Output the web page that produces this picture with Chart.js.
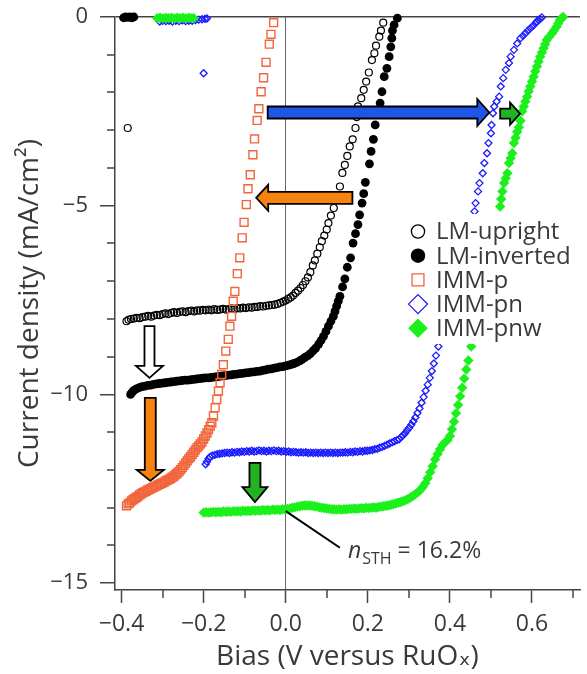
<!DOCTYPE html>
<html><head><meta charset="utf-8">
<script src="https://cdn.jsdelivr.net/npm/chart.js@4.4.0/dist/chart.umd.min.js"></script>
<style>html,body{margin:0;padding:0;background:#fff;}canvas{display:block;}</style>
</head><body>
<canvas id="c" width="587" height="674"></canvas>
<script>
// ---------- DATA ----------
const seriesLabels = ['LM-upright', 'LM-inverted', 'IMM-p', 'IMM-pn', 'IMM-pnw'];

const xMajorTicks = [-0.4, -0.2, 0, 0.2, 0.4, 0.6];
const xMinorTicks = [-0.3, -0.1, 0.1, 0.3, 0.5, 0.7];
const yMajorTicks = [0, -5, -10, -15];
const yMinorTicks = [-1, -2, -3, -4, -6, -7, -8, -9, -11, -12, -13, -14];

const lmUpright = [
[-0.385,-2.94],
[-0.388,-8.06],[-0.383,-8.02],[-0.377,-8.00],[-0.370,-7.99],[-0.363,-7.97],[-0.356,-7.98],[-0.349,-7.95],
[-0.342,-7.94],[-0.335,-7.92],[-0.328,-7.94],[-0.321,-7.91],[-0.314,-7.89],[-0.307,-7.90],[-0.300,-7.87],
[-0.293,-7.85],[-0.286,-7.87],[-0.279,-7.84],[-0.272,-7.82],[-0.265,-7.84],[-0.258,-7.81],[-0.251,-7.80],
[-0.244,-7.82],[-0.237,-7.79],[-0.230,-7.78],[-0.223,-7.80],[-0.216,-7.77],[-0.209,-7.78],[-0.202,-7.76],
[-0.195,-7.77],[-0.188,-7.75],[-0.181,-7.77],[-0.174,-7.74],[-0.167,-7.76],[-0.160,-7.75],[-0.153,-7.73],
[-0.146,-7.75],[-0.139,-7.74],[-0.132,-7.72],[-0.125,-7.74],[-0.118,-7.71],[-0.111,-7.72],[-0.104,-7.70],
[-0.097,-7.71],[-0.090,-7.69],[-0.083,-7.70],[-0.076,-7.68],[-0.069,-7.68],[-0.062,-7.66],[-0.055,-7.67],
[-0.048,-7.65],[-0.041,-7.64],[-0.034,-7.63],[-0.027,-7.62],[-0.020,-7.60],[-0.013,-7.57],[-0.006,-7.54],
[0.000,-7.51],[0.006,-7.47],[0.012,-7.43],[0.018,-7.38],[0.024,-7.31],[0.030,-7.25],[0.036,-7.18],
[0.042,-7.10],[0.048,-7.00],[0.054,-6.90],[0.060,-6.76],[0.066,-6.58],[0.071,-6.45],[0.077,-6.27],
[0.083,-6.10],[0.088,-5.94],[0.094,-5.79],[0.100,-5.63],[0.104,-5.46],[0.110,-5.26],[0.117,-5.06],
[0.125,-4.78],[0.132,-4.49],[0.138,-4.13],[0.144,-3.92],[0.150,-3.68],[0.156,-3.43],[0.163,-3.24],
[0.170,-2.94],[0.173,-2.65],[0.176,-2.37],[0.184,-2.15],[0.190,-1.93],[0.196,-1.71],[0.2025,-1.47],
[0.210,-1.14],[0.216,-0.96],[0.220,-0.76],[0.228,-0.52],[0.232,-0.36],[0.2376,-0.15]
];

const lmInverted = [
[-0.395,-0.02],[-0.390,0.00],[-0.385,-0.01],[-0.380,0.00],[-0.375,-0.02],[-0.370,0.00],
[-0.378,-10.00],[-0.374,-9.94],[-0.370,-9.89],[-0.364,-9.85],[-0.357,-9.82],[-0.350,-9.79],[-0.343,-9.78],
[-0.336,-9.76],[-0.329,-9.75],[-0.322,-9.73],[-0.315,-9.72],[-0.308,-9.71],[-0.301,-9.70],[-0.294,-9.69],
[-0.287,-9.68],[-0.280,-9.67],[-0.273,-9.66],[-0.266,-9.65],[-0.259,-9.64],[-0.252,-9.63],[-0.245,-9.62],
[-0.238,-9.62],[-0.231,-9.61],[-0.224,-9.60],[-0.217,-9.59],[-0.210,-9.58],[-0.203,-9.57],[-0.196,-9.56],
[-0.189,-9.56],[-0.182,-9.55],[-0.175,-9.54],[-0.168,-9.53],[-0.161,-9.52],[-0.154,-9.51],[-0.147,-9.50],
[-0.140,-9.49],[-0.133,-9.48],[-0.126,-9.47],[-0.119,-9.46],[-0.112,-9.45],[-0.105,-9.44],[-0.098,-9.43],
[-0.091,-9.42],[-0.084,-9.41],[-0.077,-9.40],[-0.070,-9.39],[-0.063,-9.38],[-0.056,-9.36],[-0.049,-9.35],
[-0.042,-9.33],[-0.035,-9.32],[-0.028,-9.30],[-0.021,-9.29],[-0.014,-9.27],[-0.007,-9.26],[0.000,-9.24],
[0.007,-9.22],[0.014,-9.20],[0.020,-9.18],[0.027,-9.15],[0.034,-9.11],[0.040,-9.07],[0.047,-9.02],
[0.054,-8.97],[0.060,-8.92],[0.067,-8.84],[0.073,-8.77],[0.080,-8.67],[0.086,-8.57],[0.092,-8.46],
[0.098,-8.33],[0.104,-8.19],[0.110,-8.06],[0.116,-7.93],[0.120,-7.80],[0.124,-7.66],[0.128,-7.53],
[0.132,-7.40],[0.1385,-7.15],[0.144,-6.94],[0.150,-6.63],[0.158,-6.38],[0.164,-5.99],[0.170,-5.74],
[0.176,-5.50],[0.180,-5.24],[0.186,-4.93],[0.190,-4.68],[0.194,-4.38],[0.204,-3.89],[0.208,-3.56],
[0.2136,-3.24],[0.218,-2.86],[0.224,-2.57],[0.230,-2.28],[0.2345,-1.98],[0.240,-1.58],[0.2465,-1.36],
[0.252,-1.05],[0.256,-0.79],[0.2585,-0.56],[0.260,-0.36],[0.264,-0.21],[0.272,-0.03]
];

const immP = [
[-0.388,-12.95],[-0.384,-12.90],[-0.380,-12.87],[-0.376,-12.82],[-0.372,-12.79],[-0.368,-12.76],[-0.364,-12.73],
[-0.360,-12.70],[-0.356,-12.66],[-0.352,-12.63],[-0.348,-12.60],[-0.344,-12.58],[-0.340,-12.56],[-0.336,-12.53],
[-0.332,-12.51],[-0.328,-12.49],[-0.324,-12.47],[-0.320,-12.45],[-0.316,-12.43],[-0.312,-12.40],[-0.308,-12.38],
[-0.304,-12.36],[-0.300,-12.34],[-0.296,-12.32],[-0.292,-12.29],[-0.288,-12.27],[-0.284,-12.25],[-0.280,-12.22],
[-0.276,-12.19],[-0.272,-12.16],[-0.268,-12.12],[-0.264,-12.08],[-0.260,-12.04],[-0.256,-11.99],[-0.252,-11.94],
[-0.248,-11.88],[-0.244,-11.82],[-0.240,-11.76],[-0.236,-11.70],[-0.232,-11.65],[-0.228,-11.59],[-0.224,-11.53],
[-0.220,-11.47],[-0.216,-11.41],[-0.212,-11.36],[-0.208,-11.31],[-0.204,-11.26],[-0.200,-11.18],[-0.196,-11.10],
[-0.192,-11.02],[-0.188,-10.93],[-0.184,-10.84],[-0.180,-10.75],[-0.176,-10.57],[-0.172,-10.35],[-0.168,-10.13],
[-0.164,-9.91],[-0.160,-9.69],[-0.156,-9.47],[-0.152,-9.21],[-0.146,-8.85],[-0.140,-8.54],[-0.136,-8.19],
[-0.132,-7.93],[-0.128,-7.53],[-0.124,-7.27],[-0.118,-6.80],[-0.112,-6.38],[-0.106,-5.85],[-0.1015,-5.44],
[-0.096,-4.97],[-0.092,-4.55],[-0.0864,-4.18],[-0.080,-3.65],[-0.076,-3.23],[-0.0696,-2.74],[-0.0655,-2.43],
[-0.060,-1.98],[-0.054,-1.61],[-0.048,-1.20],[-0.040,-0.72],[-0.036,-0.46],[-0.0295,-0.15]
];

const immPn = [
[-0.307,-0.12],[-0.300,-0.10],[-0.292,-0.11],[-0.284,-0.10],[-0.276,-0.12],[-0.268,-0.10],[-0.260,-0.11],
[-0.252,-0.09],[-0.244,-0.11],[-0.236,-0.10],[-0.228,-0.10],[-0.220,-0.08],[-0.212,-0.07],[-0.204,-0.06],
[-0.197,-0.05],[-0.192,-0.04],
[-0.200,-1.49],
[-0.195,-11.85],[-0.192,-11.78],[-0.188,-11.70],[-0.184,-11.65],[-0.179,-11.62],[-0.173,-11.60],[-0.167,-11.58],
[-0.161,-11.57],[-0.155,-11.56],[-0.149,-11.55],[-0.143,-11.54],[-0.137,-11.55],[-0.131,-11.53],[-0.125,-11.54],
[-0.119,-11.52],[-0.113,-11.53],[-0.107,-11.51],[-0.101,-11.52],[-0.095,-11.50],[-0.089,-11.51],[-0.083,-11.49],
[-0.077,-11.51],[-0.071,-11.50],[-0.065,-11.48],[-0.059,-11.50],[-0.053,-11.49],[-0.047,-11.51],[-0.041,-11.49],
[-0.035,-11.50],[-0.029,-11.48],[-0.023,-11.50],[-0.017,-11.49],[-0.011,-11.51],[-0.005,-11.50],[0.001,-11.52],
[0.007,-11.51],[0.013,-11.53],[0.019,-11.52],[0.025,-11.53],[0.031,-11.54],[0.037,-11.53],[0.043,-11.54],
[0.049,-11.53],[0.055,-11.55],[0.061,-11.54],[0.067,-11.55],[0.073,-11.54],[0.079,-11.55],[0.085,-11.54],
[0.091,-11.55],[0.097,-11.54],[0.103,-11.55],[0.109,-11.54],[0.115,-11.55],[0.121,-11.54],[0.127,-11.55],
[0.133,-11.54],[0.139,-11.54],[0.145,-11.53],[0.151,-11.54],[0.157,-11.52],[0.163,-11.53],[0.169,-11.51],
[0.175,-11.52],[0.181,-11.50],[0.187,-11.51],[0.193,-11.49],[0.199,-11.49],[0.205,-11.48],[0.211,-11.47],
[0.217,-11.45],[0.223,-11.44],[0.229,-11.41],[0.235,-11.39],[0.241,-11.36],[0.247,-11.33],[0.253,-11.30],
[0.259,-11.27],[0.265,-11.24],[0.271,-11.21],[0.276,-11.19],[0.281,-11.13],[0.286,-11.08],[0.291,-11.02],
[0.296,-10.95],[0.301,-10.88],[0.306,-10.80],[0.311,-10.71],[0.316,-10.61],[0.321,-10.49],[0.326,-10.37],
[0.331,-10.22],[0.336,-10.07],[0.341,-9.90],[0.346,-9.74],[0.351,-9.56],[0.356,-9.38],[0.361,-9.18],
[0.366,-8.97],[0.372,-8.73],[0.377,-8.51],[0.382,-8.30],[0.388,-8.06],[0.394,-7.82],[0.400,-7.58],
[0.406,-7.34],[0.412,-7.10],[0.418,-6.86],[0.424,-6.62],[0.430,-6.38],[0.436,-6.14],[0.442,-5.90],
[0.448,-5.66],[0.454,-5.42],[0.460,-5.15],[0.4625,-4.93],[0.4685,-4.62],[0.472,-4.40],[0.480,-4.14],
[0.484,-3.87],[0.4905,-3.61],[0.494,-3.34],[0.500,-3.08],[0.5015,-2.86],[0.505,-2.55],[0.508,-2.37],
[0.514,-2.24],[0.520,-2.11],[0.524,-1.84],[0.530,-1.62],[0.536,-1.40],[0.544,-1.22],[0.548,-1.05],
[0.556,-0.87],[0.564,-0.70],[0.572,-0.56],[0.578,-0.50],[0.584,-0.43],[0.590,-0.36],[0.596,-0.30],
[0.602,-0.24],[0.608,-0.17],[0.612,-0.12],[0.616,-0.08],[0.620,-0.05],[0.624,-0.01]
];

const immPnw = [
[-0.313,-0.03],[-0.306,-0.02],[-0.299,-0.04],[-0.292,-0.02],[-0.285,-0.03],[-0.278,-0.02],[-0.271,-0.04],
[-0.264,-0.02],[-0.257,-0.03],[-0.250,-0.02],[-0.243,-0.04],[-0.236,-0.02],[-0.229,-0.03],[-0.224,-0.03],
[-0.200,-13.13],[-0.194,-13.12],[-0.188,-13.13],[-0.182,-13.12],[-0.176,-13.11],[-0.170,-13.12],[-0.164,-13.11],
[-0.158,-13.12],[-0.152,-13.10],[-0.146,-13.11],[-0.140,-13.10],[-0.134,-13.11],[-0.128,-13.09],[-0.122,-13.10],
[-0.116,-13.09],[-0.110,-13.10],[-0.104,-13.08],[-0.098,-13.09],[-0.092,-13.08],[-0.086,-13.09],[-0.080,-13.07],
[-0.074,-13.08],[-0.068,-13.07],[-0.062,-13.08],[-0.056,-13.06],[-0.050,-13.07],[-0.044,-13.06],[-0.038,-13.07],
[-0.032,-13.05],[-0.026,-13.06],[-0.020,-13.05],[-0.014,-13.06],[-0.008,-13.04],[-0.002,-13.05],[0.004,-13.03],
[0.010,-13.02],[0.016,-13.00],[0.022,-12.99],[0.028,-12.97],[0.034,-12.96],[0.040,-12.95],[0.046,-12.94],
[0.052,-12.94],[0.058,-12.94],[0.064,-12.95],[0.070,-12.96],[0.076,-12.97],[0.082,-12.99],[0.088,-13.00],
[0.094,-13.01],[0.100,-13.02],[0.106,-13.03],[0.112,-13.04],[0.118,-13.04],[0.124,-13.05],[0.130,-13.04],
[0.136,-13.05],[0.142,-13.04],[0.148,-13.04],[0.154,-13.03],[0.160,-13.03],[0.166,-13.02],[0.172,-13.03],
[0.178,-13.02],[0.184,-13.01],[0.190,-13.02],[0.196,-13.00],[0.202,-13.01],[0.208,-13.00],[0.214,-12.99],
[0.220,-13.00],[0.226,-12.98],[0.232,-12.97],[0.238,-12.96],[0.244,-12.95],[0.250,-12.94],[0.256,-12.92],
[0.262,-12.91],[0.268,-12.89],[0.274,-12.87],[0.280,-12.85],[0.286,-12.83],[0.292,-12.80],[0.298,-12.77],
[0.304,-12.73],[0.310,-12.69],[0.316,-12.64],[0.322,-12.59],[0.328,-12.53],[0.334,-12.45],[0.340,-12.35],
[0.346,-12.22],[0.352,-12.06],[0.358,-11.90],[0.364,-11.72],[0.370,-11.58],[0.376,-11.45],[0.382,-11.34],
[0.388,-11.27],[0.394,-11.21],[0.400,-11.10],[0.405,-10.92],[0.410,-10.72],[0.415,-10.50],[0.420,-10.28],
[0.425,-10.05],[0.430,-9.82],[0.435,-9.58],[0.440,-9.34],[0.445,-9.10],[0.452,-8.73],[0.457,-8.50],
[0.462,-8.26],[0.467,-8.02],[0.472,-7.78],[0.477,-7.54],[0.482,-7.30],[0.487,-7.06],[0.492,-6.82],
[0.497,-6.58],[0.502,-6.34],[0.507,-6.10],[0.512,-5.78],[0.517,-5.40],[0.5225,-5.02],[0.525,-4.82],
[0.528,-4.62],[0.532,-4.40],[0.536,-4.27],[0.540,-4.14],[0.544,-3.87],[0.548,-3.74],[0.552,-3.61],
[0.556,-3.34],[0.560,-3.20],[0.564,-3.04],[0.568,-2.92],[0.572,-2.75],[0.576,-2.50],[0.580,-2.37],
[0.584,-2.24],[0.588,-2.11],[0.592,-1.97],[0.596,-1.84],[0.600,-1.71],[0.604,-1.58],[0.608,-1.44],
[0.612,-1.31],[0.616,-1.18],[0.620,-1.05],[0.624,-0.94],[0.628,-0.83],[0.632,-0.72],[0.636,-0.61],
[0.642,-0.52],[0.649,-0.43],[0.654,-0.35],[0.660,-0.26],[0.664,-0.17],[0.668,-0.08],[0.672,-0.03],[0.676,0.00]
];

// Annotation arrows: tail and tip in data units (bias V, current mA/cm2)
const arrowTails = [[-0.044,-2.53],[0.5225,-2.56],[0.1625,-4.79],[-0.332,-8.19],[-0.330,-10.09],[-0.075,-11.81]];
const arrowTips  = [[0.496,-2.53],[0.571,-2.56],[-0.072,-4.79],[-0.332,-9.56],[-0.330,-12.29],[-0.075,-12.85]];
const efficiencyPoint = [0, -13.09];
const efficiencyLabelAt = [0.132, -14.06];

// ---------- STYLE ----------
const FONT = "'Open Sans', 'DejaVu Sans', sans-serif";
const TXT = '#3a3a3a';
const AX = '#444';
const arrowStyles = [
  {fill:'#1f55e8', bar:12, head:12, hw:27},
  {fill:'#22b322', bar:10, head:10, hw:22},
  {fill:'#f7820d', bar:12, head:12, hw:26},
  {fill:'#ffffff', bar:10, head:12, hw:27},
  {fill:'#f7820d', bar:11, head:11, hw:27},
  {fill:'#22b322', bar:11, head:15, hw:25}
];
const legendMarker = [
  {r:6.6, bw:1.5}, {r:7.2, bw:0}, {r:8.4, bw:1.6}, {r:9.5, bw:1.6}, {r:9.8, bw:0}
];

function pts(a){ return a.map(p => ({x:p[0], y:p[1]})); }
const CLEAR = 'rgba(255,255,255,0)';

const datasets = [
  {label:seriesLabels[0], data:pts(lmUpright), pointStyle:'circle', pointRadius:3.5, pointBorderWidth:1.2,
   pointBorderColor:'#000', pointBackgroundColor:CLEAR, order:5, clip:false},
  {label:seriesLabels[1], data:pts(lmInverted), pointStyle:'circle', pointRadius:4.4, pointBorderWidth:0,
   pointBorderColor:'#000', pointBackgroundColor:'#000', order:4, clip:false},
  {label:seriesLabels[2], data:pts(immP), pointStyle:'rect', pointRadius:5.6, pointBorderWidth:1.4,
   pointBorderColor:'#f2643a', pointBackgroundColor:CLEAR, order:3, clip:false},
  {label:seriesLabels[3], data:pts(immPn), pointStyle:'rectRot', pointRadius:3.5, pointBorderWidth:1.3,
   pointBorderColor:'#1a1aff', pointBackgroundColor:CLEAR, order:2, clip:false},
  {label:seriesLabels[4], data:pts(immPnw), pointStyle:'rectRot', pointRadius:5.2, pointBorderWidth:0,
   pointBorderColor:'#1cf01c', pointBackgroundColor:'#1cf01c', order:1, clip:false}
];

function drawArrow(ctx, x1, y1, x2, y2, st){
  const dx = x2-x1, dy = y2-y1, L = Math.hypot(dx,dy);
  const ux = dx/L, uy = dy/L, nx = -uy, ny = ux;
  const nkx = x2 - ux*st.head, nky = y2 - uy*st.head;
  const b = st.bar/2, h = st.hw/2;
  ctx.beginPath();
  ctx.moveTo(x1 + nx*b, y1 + ny*b);
  ctx.lineTo(nkx + nx*b, nky + ny*b);
  ctx.lineTo(nkx + nx*h, nky + ny*h);
  ctx.lineTo(x2, y2);
  ctx.lineTo(nkx - nx*h, nky - ny*h);
  ctx.lineTo(nkx - nx*b, nky - ny*b);
  ctx.lineTo(x1 - nx*b, y1 - ny*b);
  ctx.closePath();
  ctx.fillStyle = st.fill; ctx.fill();
  ctx.lineWidth = 1.8; ctx.strokeStyle = '#000'; ctx.lineJoin = 'miter'; ctx.stroke();
}

const overlayPlugin = {
  id:'overlay',
  afterDatasetsDraw(chart){
    const {ctx, chartArea:ca} = chart;
    const xs = chart.scales.x, ys = chart.scales.y;
    ctx.save();
    // legend with white background
    const bx = ca.left + 290, by = ca.top + 197;
    ctx.fillStyle = '#fff';
    ctx.fillRect(bx, by, 175, 130);
    ctx.font = '24px ' + FONT;
    ctx.textBaseline = 'middle';
    ctx.textAlign = 'left';
    chart.data.datasets.forEach((ds, i) => {
      const cy = by + 17.5 + i*24.2;
      const cx = bx + 13;
      ctx.fillStyle = ds.pointBackgroundColor;
      ctx.strokeStyle = ds.pointBorderColor;
      Chart.helpers.drawPoint(ctx, {pointStyle: ds.pointStyle, rotation:0, radius: legendMarker[i].r,
        borderWidth: legendMarker[i].bw}, cx, cy);
      ctx.fillStyle = TXT;
      ctx.fillText(ds.label, bx + 31, cy + 1);
    });
    // arrows
    arrowTails.forEach((t, i) => {
      const tip = arrowTips[i];
      drawArrow(ctx, xs.getPixelForValue(t[0]), ys.getPixelForValue(t[1]),
                xs.getPixelForValue(tip[0]), ys.getPixelForValue(tip[1]), arrowStyles[i]);
    });
    // efficiency label
    const ex = xs.getPixelForValue(efficiencyPoint[0]), ey = ys.getPixelForValue(efficiencyPoint[1]);
    const lx = xs.getPixelForValue(efficiencyLabelAt[0]), ly = ys.getPixelForValue(efficiencyLabelAt[1]);
    ctx.beginPath(); ctx.moveTo(ex, ey); ctx.lineTo(lx, ly);
    ctx.lineWidth = 2; ctx.strokeStyle = '#000'; ctx.stroke();
    ctx.textBaseline = 'alphabetic';
    ctx.fillStyle = TXT;
    let tx = lx + 8, ty = ly + 10;
    ctx.font = 'italic 23px ' + FONT; ctx.fillText('n', tx, ty); tx += ctx.measureText('n').width + 1;
    ctx.font = '16px ' + FONT; ctx.fillText('STH', tx, ty + 6); tx += ctx.measureText('STH').width;
    ctx.font = '23px ' + FONT; ctx.fillText(' = 16.2%', tx, ty);
    ctx.restore();
  },
  afterDraw(chart){
    const {ctx, chartArea:ca} = chart;
    const xs = chart.scales.x, ys = chart.scales.y;
    ctx.save();
    ctx.strokeStyle = AX; ctx.lineWidth = 1.5;
    ctx.beginPath();
    xMinorTicks.forEach(v => { const p = Math.round(xs.getPixelForValue(v)); ctx.moveTo(p, ca.bottom); ctx.lineTo(p, ca.bottom + 8); });
    yMinorTicks.forEach(v => { const p = Math.round(ys.getPixelForValue(v)); ctx.moveTo(ca.left, p); ctx.lineTo(ca.left - 8, p); });
    ctx.stroke();
    ctx.restore();
  }
};

function fmtX(v){ if (Math.abs(v) < 1e-9) return '0.0'; const s = Math.abs(v).toFixed(1); return v < 0 ? '\u2212' + s : s; }
function fmtY(v){ if (Math.abs(v) < 1e-9) return '0'; return v < 0 ? '\u2212' + Math.abs(v) : String(v); }

new Chart(document.getElementById('c'), {
  type:'scatter',
  data:{datasets},
  plugins:[overlayPlugin],
  options:{
    responsive:false, animation:false, devicePixelRatio:1, events:[],
    layout:{padding:{top:17, left:0, right:0, bottom:0}},
    plugins:{legend:{display:false}, tooltip:{enabled:false}},
    scales:{
      x:{
        type:'linear', min:-0.416, max:0.717,
        afterBuildTicks: s => { s.ticks = xMajorTicks.map(v => ({value:v})); },
        afterFit: s => { s.height = 84; s.paddingLeft = 0; s.paddingRight = 0; },
        ticks:{callback: v => fmtX(v), color:TXT, font:{family:FONT, size:23}, padding:8, maxRotation:0, autoSkip:false},
        grid:{drawOnChartArea:true, drawTicks:true, tickLength:13, tickWidth:1.5, tickColor:AX,
              color: c => (c.tick && Math.abs(c.tick.value) < 1e-9) ? '#6a6a6a' : 'rgba(0,0,0,0)', lineWidth:1},
        border:{display:true, color:AX, width:1.5},
        title:{display:true, text:'Bias (V versus RuO\u2093)', color:TXT, font:{family:FONT, size:28}, padding:{top:0, bottom:0}}
      },
      y:{
        type:'linear', min:-15.18, max:0,
        afterBuildTicks: s => { s.ticks = yMajorTicks.map(v => ({value:v})); },
        afterFit: s => { s.width = 115; s.paddingTop = 0; s.paddingBottom = 0; },
        ticks:{callback: v => fmtY(v), color:TXT, font:{family:FONT, size:22}, padding:12, autoSkip:false},
        grid:{drawOnChartArea:true, drawTicks:true, tickLength:15, tickWidth:1.5, tickColor:AX,
              color: c => (c.tick && Math.abs(c.tick.value) < 1e-9) ? AX : 'rgba(0,0,0,0)', lineWidth:1.5},
        border:{display:true, color:AX, width:1.5},
        title:{display:true, text:'Current density (mA/cm\u00b2)', color:TXT, font:{family:FONT, size:28}, padding:{top:13, bottom:0}}
      }
    }
  }
});
</script>
</body></html>
